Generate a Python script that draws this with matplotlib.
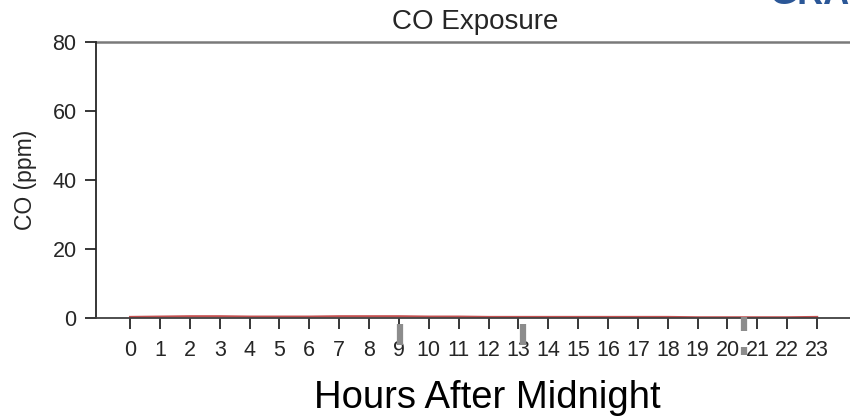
import numpy as np
import matplotlib.pyplot as plt

plt.rcParams['font.family'] = ['Liberation Sans', 'DejaVu Sans']

hours = list(range(24))
co_ppm = [0.3, 0.4, 0.5, 0.5, 0.4, 0.4, 0.4, 0.5, 0.5, 0.5, 0.4, 0.4,
          0.3, 0.3, 0.3, 0.3, 0.3, 0.3, 0.3, 0.2, 0.2, 0.2, 0.2, 0.3]

# gray marks hanging under the axis (hour, low, high)
mark_x = [9.05, 13.15, 20.55, 20.55]
mark_lo = [-7.7, -7.8, -3.8, -10.6]
mark_hi = [-1.8, -1.8, 0.4, -8.5]

fig = plt.figure(figsize=(8.5, 4.19), dpi=100)
ax = fig.add_axes([0.113, 0.241, 0.9, 0.659])

ax.plot(hours, co_ppm, color='#b01515', lw=1.6, alpha=0.75)
ax.vlines(mark_x, mark_lo, mark_hi, color='#8c8c8c', lw=4.5, clip_on=False, zorder=5)
ax.axhline(80, color='#7a7a7a', lw=1.8, clip_on=False)

ax.set_xlim(-1.14, 24.07 + (0.9 * 850 - 753) / 29.9)
ax.set_ylim(0, 80)
ax.set_xticks(hours)
ax.set_yticks([0, 20, 40, 60, 80])

for s in ['top', 'right']:
    ax.spines[s].set_visible(False)
ax.spines['left'].set_color('#262626')
ax.spines['bottom'].set_color('#404040')
ax.spines['left'].set_linewidth(1.3)
ax.spines['bottom'].set_linewidth(1.3)
ax.tick_params(axis='both', colors='#262626', labelsize=15.5, length=8, width=1.3)
ax.tick_params(axis='x', pad=8)
ax.tick_params(axis='y', pad=6)

ax.set_title('CO Exposure', fontsize=20, color='#262626', pad=9, x=0.495)
ax.set_ylabel('CO (ppm)', fontsize=16.5, color='#262626')
ax.yaxis.set_label_coords(-0.077, 0.5)
ax.set_xlabel('Hours After Midnight', fontsize=27.5, color='black')
ax.xaxis.set_label_coords(0.511, -0.225)

# header of the next panel, cut off at the top edge
fig.text(0.905, 0.9905, 'GRAPHS', fontsize=26, fontweight='bold', color='#2b5797',
         va='baseline', ha='left')

fig.savefig('out.png', dpi=100)
